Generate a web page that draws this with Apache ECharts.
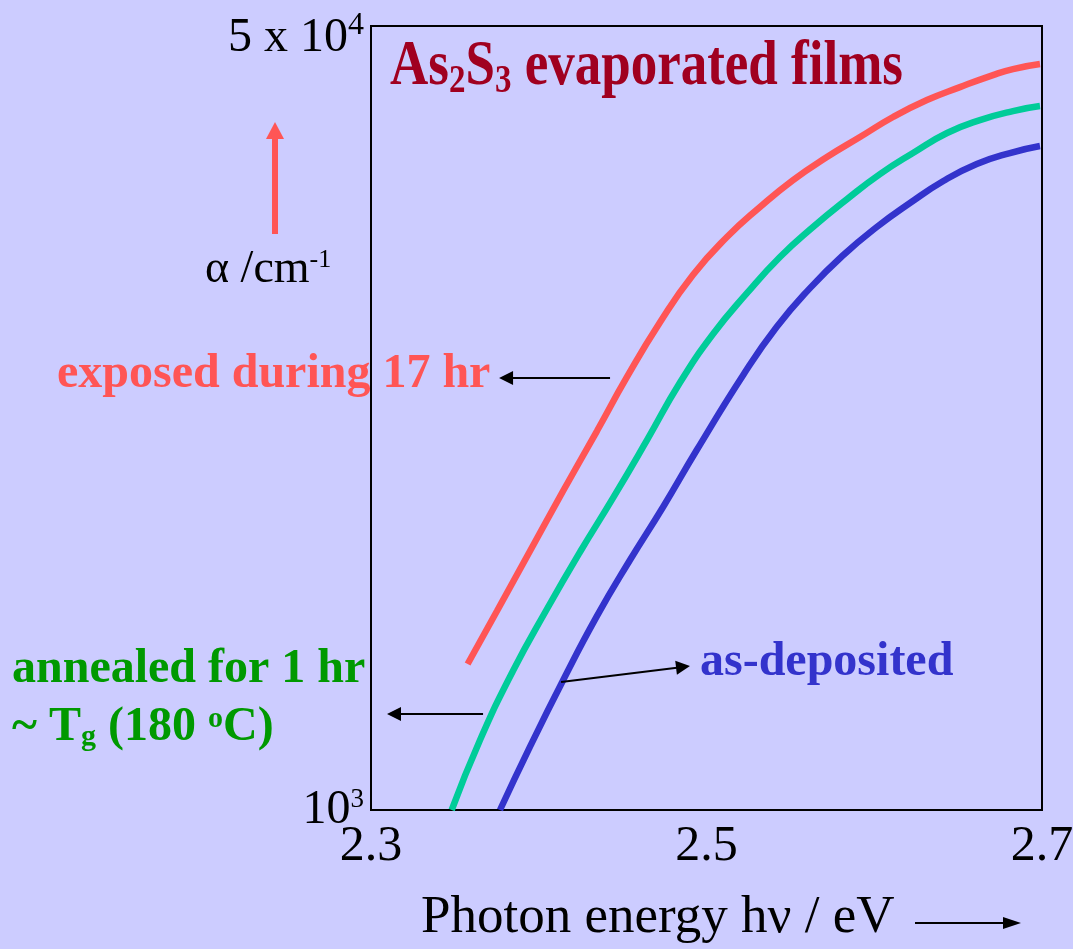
<!DOCTYPE html>
<html>
<head>
<meta charset="utf-8">
<script src="https://cdn.jsdelivr.net/npm/echarts@6/dist/echarts.min.js"></script>
<style>
html,body{margin:0;padding:0;background:#CCCCFF;}
#chart{width:1073px;height:949px;}
</style>
</head>
<body>
<div id="chart"></div>
<script>
// ---- data (photon energy in eV, absorption coefficient in cm^-1) ----
const exposedE = [2.3576, 2.3751, 2.3948, 2.4145, 2.4347, 2.4526, 2.4723, 2.4920, 2.5122, 2.5319, 2.5516, 2.5718, 2.5915, 2.6112, 2.6314, 2.6511, 2.6708, 2.6827, 2.6988];
const exposedA = [2072, 2699, 3641, 4912, 6626, 8677, 11400, 14450, 17440, 20260, 23180, 26000, 28730, 31750, 34550, 36860, 39140, 40330, 41350];

const annealedE = [2.3481, 2.3650, 2.3846, 2.4049, 2.4246, 2.4443, 2.4646, 2.4842, 2.5039, 2.5241, 2.5438, 2.5635, 2.5838, 2.6034, 2.6231, 2.6434, 2.6630, 2.6827, 2.6988];
const annealedA = [1000, 1418, 2001, 2726, 3623, 4745, 6340, 8440, 10750, 13180, 15790, 18340, 21080, 23880, 26530, 29310, 31270, 32710, 33530];

const depositedE = [2.3769, 2.3948, 2.4146, 2.4345, 2.4544, 2.4742, 2.4942, 2.5219, 2.5418, 2.5617, 2.5816, 2.6015, 2.6213, 2.6412, 2.6611, 2.6809, 2.6988];
const depositedA = [1000, 1372, 1913, 2624, 3481, 4541, 6026, 8764, 11130, 13520, 15950, 18340, 20670, 23070, 25110, 26530, 27470];

// tick labels
const xTicks = [2.3, 2.5, 2.7];
const yTicks = [1000, 50000];
const yTickText = {1000: '{m|10}{p|3}', 50000: '{mt|5 x 10}{pt|4}'};

// annotation arrows (data coordinates: [eV, alpha])
const exposedArrow = [[2.4425, 8630], [2.3805, 8630]];
const annealedArrow = [[2.3668, 1614], [2.3137, 1614]];
const depositedArrow = [[2.4133, 1894], [2.4860, 2042]];

const serif = "'Liberation Serif', 'Times New Roman', serif";
const zip = (a, b) => a.map((v, i) => [v, b[i]]);

function arrowLine(pts) {
  return {
    silent: true,
    symbol: ['none', 'triangle'],
    symbolSize: 14,
    lineStyle: {color: '#000', width: 2, type: 'solid'},
    label: {show: false},
    emphasis: {disabled: true},
    data: [[{coord: pts[0]}, {coord: pts[1]}]]
  };
}

const chart = echarts.init(document.getElementById('chart'));
chart.setOption({
  animation: false,
  backgroundColor: '#CCCCFF',
  grid: {left: 371, top: 26, right: 31, bottom: 139, containLabel: false, outerBoundsMode: 'none',
         show: true, borderColor: '#000', borderWidth: 2, backgroundColor: 'transparent'},
  xAxis: {
    type: 'value', min: 2.3, max: 2.7, interval: 0.2,
    axisLine: {show: true, lineStyle: {color: '#000', width: 2}},
    axisTick: {show: false},
    splitLine: {show: false},
    axisLabel: {
      customValues: xTicks,
      formatter: v => v.toFixed(1),
      color: '#000', fontFamily: serif, fontSize: 50, lineHeight: 50, margin: 12
    }
  },
  yAxis: {
    type: 'log', logBase: 10, min: 1000, max: 50000,
    axisLine: {show: true, lineStyle: {color: '#000', width: 2}},
    axisTick: {show: false},
    splitLine: {show: false},
    axisLabel: {
      customValues: yTicks,
      formatter: v => yTickText[Math.round(v)] || '',
      margin: 7,
      rich: {
        m: {fontFamily: serif, fontSize: 48, lineHeight: 48, color: '#000'},
        p: {fontFamily: serif, fontSize: 27, lineHeight: 29, color: '#000', verticalAlign: 'top'},
        mt: {fontFamily: serif, fontSize: 48, lineHeight: 48, color: '#000', verticalAlign: 'bottom'},
        pt: {fontFamily: serif, fontSize: 32, lineHeight: 72, color: '#000', verticalAlign: 'middle'}
      }
    }
  },
  title: [
    {
      left: 57, top: 351, padding: 0, text: 'exposed during 17 hr',
      textStyle: {fontFamily: serif, fontSize: 48, lineHeight: 48, fontWeight: 'bold', color: '#FF5555'}
    },
    {
      left: 12, top: 646, padding: 0, text: 'annealed for 1 hr',
      textStyle: {fontFamily: serif, fontSize: 48, lineHeight: 48, fontWeight: 'bold', color: '#009900'}
    },
    {
      left: 12, top: 704, padding: 0,
      text: '{a|~ T}{s|g}{a| (180 }{p|o}{a|C)}',
      textStyle: {rich: {
        a: {fontFamily: serif, fontSize: 48, lineHeight: 48, fontWeight: 'bold', color: '#009900'},
        s: {fontFamily: serif, fontSize: 30, lineHeight: 13, fontWeight: 'bold', color: '#009900', verticalAlign: 'bottom'},
        p: {fontFamily: serif, fontSize: 30, lineHeight: 9, fontWeight: 'bold', color: '#009900', verticalAlign: 'top'}
      }}
    },
    {
      left: 700, top: 639, padding: 0, text: 'as-deposited',
      textStyle: {fontFamily: serif, fontSize: 48, lineHeight: 48, fontWeight: 'bold', color: '#3333CC'}
    },
    {
      left: 205, top: 247, padding: 0,
      text: '{a|α /cm}{p|-1}',
      textStyle: {fontWeight: 'normal', rich: {
        a: {fontFamily: serif, fontSize: 46, lineHeight: 46, fontWeight: 'normal', color: '#000'},
        p: {fontFamily: serif, fontSize: 26, lineHeight: 26, fontWeight: 'normal', color: '#000', verticalAlign: 'top'}
      }}
    },
    {
      left: 421, top: 892, padding: 0, text: 'Photon energy hν / eV',
      textStyle: {fontFamily: serif, fontSize: 53, lineHeight: 53, fontWeight: 'normal', color: '#000'}
    }
  ],
  graphic: [
    {
      type: 'text', silent: true, x: 390, y: 34, scaleX: 1, scaleY: 1.2,
      style: {
        text: '{a|As}{s|2}{a|S}{s|3}{a| evaporated films}',
        fill: '#A00020', font: "bold 53px 'Liberation Serif'",
        rich: {
          a: {fontFamily: serif, fontSize: 53, fontWeight: 'bold', fill: '#A00020', lineHeight: 56},
          s: {fontFamily: serif, fontSize: 33, fontWeight: 'bold', fill: '#A00020', lineHeight: 24, verticalAlign: 'bottom'}
        }
      }
    },
    {type: 'line', silent: true, shape: {x1: 275, y1: 234, x2: 275, y2: 137}, style: {stroke: '#FF5555', lineWidth: 6}},
    {type: 'polygon', silent: true, shape: {points: [[266, 139], [284, 139], [275, 122]]}, style: {fill: '#FF5555'}},
    {type: 'line', silent: true, shape: {x1: 915, y1: 923, x2: 1006, y2: 923}, style: {stroke: '#000', lineWidth: 2}},
    {type: 'polygon', silent: true, shape: {points: [[1003, 917], [1003, 929], [1021, 923]]}, style: {fill: '#000'}}
  ],
  series: [
    {
      name: 'exposed during 17 hr', type: 'line', data: zip(exposedE, exposedA),
      showSymbol: false, smooth: 0.5, lineStyle: {color: '#FF5555', width: 6.5}, itemStyle: {color: '#FF5555'},
      markLine: arrowLine(exposedArrow)
    },
    {
      name: 'annealed for 1 hr', type: 'line', data: zip(annealedE, annealedA),
      showSymbol: false, smooth: 0.5, lineStyle: {color: '#00CC99', width: 6.5}, itemStyle: {color: '#00CC99'},
      markLine: arrowLine(annealedArrow)
    },
    {
      name: 'as-deposited', type: 'line', data: zip(depositedE, depositedA),
      showSymbol: false, smooth: 0.5, lineStyle: {color: '#3333CC', width: 6.5}, itemStyle: {color: '#3333CC'},
      markLine: arrowLine(depositedArrow)
    }
  ]
});
</script>
</body>
</html>
